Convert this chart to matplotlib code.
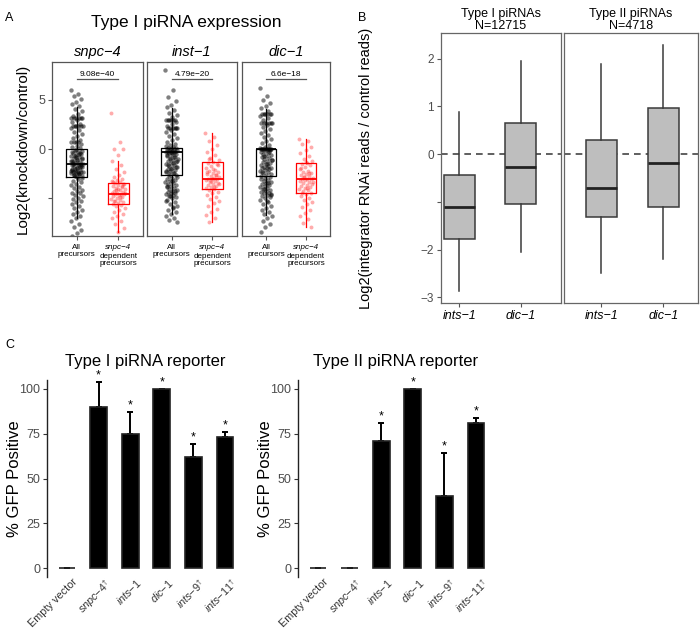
import numpy as np
import matplotlib
matplotlib.use("Agg")
import matplotlib.pyplot as plt
import matplotlib.transforms as mtransforms

plt.rcParams['font.family'] = ['Liberation Sans', 'DejaVu Sans']
plt.rcParams['mathtext.fontset'] = 'custom'
plt.rcParams['mathtext.it'] = 'Liberation Sans:italic'
plt.rcParams['mathtext.rm'] = 'Liberation Sans'
plt.rcParams['mathtext.sf'] = 'Liberation Sans'

# ---------------- Panel A data ----------------
a_facets = ['snpc−4', 'inst−1', 'dic−1']
a_pvals = ['9.08e−40', '4.79e−20', '6.6e−18']
a_all_snpc4 = [6.0, 5.6, 5.4, 5.1, 4.8, 4.6, 4.3, 4.0, 3.8, 3.5, 3.3, 3.1, 3.1, 3.1, 3.1, 3.1, 3.1, 2.9, 2.7, 2.5,
               2.3, 2.3, 2.3, 2.3, 2.3, 2.3, 2.1, 1.9, 1.7, 1.5, 1.3, 1.1, 0.9, 0.7, 0.7, 0.7, 0.7, 0.5, 0.3, 0.2, 0.1,
               -0.1, -0.2, -0.3, -0.4, -0.5, -0.6, -0.7, -0.8, -0.9, -1.0, -1.1, -1.2, -1.3, -1.4, -1.5, -1.5, -1.5,
               -1.5, -0.15, -0.35, -0.55, -0.75, -0.95, -1.15, -1.35, -0.45, -0.85, -1.25,
               -1.6, -1.7, -1.8, -1.9, -2.0, -2.1, -2.2, -2.3, -2.3, -2.3, -2.3, -2.3, -2.4, -2.5, -2.6, -2.7, -2.8,
               -1.65, -1.85, -2.05, -2.25, -2.45, -2.65, -1.75, -1.95, -2.15, -2.55, -2.75,
               -2.9, -3.0, -3.2, -3.3, -3.5, -3.6, -3.8, -3.9, -4.1, -4.2, -4.4, -4.5, -4.7, -4.8, -5.0, -5.1, -5.3,
               -5.4, -5.6, -5.8, -6.0, -6.2, -6.4, -6.6, -6.8, -7.0, -7.3, -7.6, -7.9, -8.2, -8.5, -8.8]
a_all_inst1 = [8.0, 6.0, 5.3, 4.9, 4.5, 4.2, 3.9, 3.6, 3.4, 3.2, 2.9, 2.9, 2.9, 2.9, 2.9, 2.9, 2.7, 2.5, 2.3, 2.1,
               2.1, 2.1, 2.1, 2.1, 2.1, 1.9, 1.7, 1.5, 1.3, 1.1, 0.9, 0.7, 0.5, 0.4, 0.3, 0.2, 0.1, 0.1, 0.0, 0.0,
               0.0, 0.0, -0.1, -0.2, -0.3, -0.3, -0.3, -0.3, -0.3, -0.4, -0.5, -0.6, -0.7, -0.8, -0.9, -1.0, -1.1,
               -1.2, -1.3, -1.4, -1.5, -1.6, -1.7, -1.8, -1.9, -2.0, -2.1, -2.2, -2.3, -2.4, -2.5, -2.6, -0.45,
               -0.65, -0.85, -1.05, -1.25, -1.45, -1.65, -1.85, -2.05, -2.25, -2.45,
               -2.7, -2.8, -2.9, -3.0, -3.1, -3.2, -3.3, -3.4, -3.5, -3.6, -3.7, -3.8, -3.9, -4.0, -4.1, -4.2, -4.3,
               -4.4, -4.5, -4.6, -4.7, -4.8, -4.9, -5.0, -5.2, -5.4, -5.6, -5.8, -6.0, -6.2, -6.4, -6.6, -6.8, -7.0,
               -7.2, -7.4, -3.25, -3.75, -4.25, -4.75, -5.3, -5.9]
a_all_dic1 = [6.2, 5.4, 5.0, 4.7, 4.4, 4.1, 3.8, 3.5, 3.5, 3.5, 3.5, 3.5, 3.5, 3.3, 3.1, 2.9, 2.6, 2.6, 2.6, 2.6,
              2.6, 2.6, 2.4, 2.2, 2.0, 1.8, 1.6, 1.4, 1.2, 1.0, 0.8, 0.6, 0.4, 0.2, 0.1,
              0.0, 0.0, 0.0, 0.0, 0.0, 0.0, 0.0, 0.0, 0.0, 0.0,
              -0.1, -0.2, -0.3, -0.4, -0.5, -0.6, -0.7, -0.8, -0.9, -1.0, -1.1, -1.2, -1.3, -1.4, -1.5, -1.6, -1.7,
              -1.8, -1.9, -1.9, -1.9, -2.0, -2.1, -2.2, -2.3, -2.4, -2.5, -2.6, -2.7, -0.35, -0.75, -1.15, -1.55,
              -2.35, -2.8, -2.9, -3.0, -3.1, -3.2, -3.3, -3.4, -3.5, -3.6, -3.7, -3.8, -3.9, -4.0, -4.1, -4.2, -4.3,
              -4.4, -4.5, -4.6, -4.7, -4.8, -4.9, -5.0, -5.2, -5.4, -5.6, -5.8, -6.0, -6.2, -6.4, -6.6, -6.8, -7.0,
              -7.3, -7.6, -7.9, -8.4, -3.45, -4.05, -4.65, -5.3]
a_dep_snpc4 = [3.6, 0.7, 0.0, 0.0, -0.6, -1.2, -1.6, -2.0, -2.3, -2.6, -2.8, -3.0, -3.1, -3.2, -3.3, -3.4, -3.5,
               -3.6, -3.7, -3.8, -3.9, -4.0, -4.1, -4.2, -4.3, -4.4, -4.5, -4.6, -4.6, -4.6, -4.7, -4.8, -4.9, -5.0,
               -5.1, -5.2, -5.3, -5.4, -5.5, -5.6, -5.7, -5.8, -6.0, -6.2, -6.4, -6.6, -6.8, -7.0, -7.3, -7.6, -8.0,
               -8.4, -3.35, -3.75, -4.15, -4.45, -4.85, -5.25, -3.55, -4.05]
a_dep_inst1 = [1.6, 1.2, 0.8, 0.4, 0.0, -0.3, -0.6, -0.9, -1.1, -1.3, -1.4, -1.5, -1.7, -1.9, -2.1, -2.2, -2.3,
               -2.4, -2.5, -2.6, -2.7, -2.8, -2.9, -3.0, -3.0, -3.0, -3.1, -3.2, -3.3, -3.4, -3.5, -3.6, -3.7, -3.8,
               -3.9, -4.0, -4.1, -4.3, -4.5, -4.7, -4.9, -5.1, -5.3, -5.5, -5.8, -6.1, -6.4, -6.7, -7.0, -7.4, -1.6,
               -2.0, -2.35, -2.65, -3.25, -3.55, -3.85, -1.0]
a_dep_dic1 = [1.0, 0.8, 0.5, 0.2, -0.1, -0.4, -0.7, -1.0, -1.2, -1.4, -1.5, -1.6, -1.8, -2.0, -2.2, -2.3, -2.4,
              -2.5, -2.6, -2.7, -2.8, -2.9, -3.0, -3.0, -3.0, -3.1, -3.2, -3.3, -3.4, -3.5, -3.6, -3.7, -3.8, -3.9,
              -4.0, -4.1, -4.2, -4.4, -4.6, -4.8, -5.0, -5.2, -5.4, -5.6, -5.9, -6.2, -6.5, -6.8, -7.1, -7.5, -7.9,
              -1.3, -1.9, -2.45, -2.85, -3.35, -3.95, -4.5]
# box stats: (whislo, q1, med, q3, whishi)
a_box_all = [(-7.0, -2.8, -1.5, 0.0, 4.2), (-6.6, -2.6, -0.3, 0.1, 4.1), (-6.7, -2.7, -0.05, 0.05, 4.0)]
a_box_dep = [(-8.4, -5.6, -4.6, -3.4, -1.2), (-7.4, -4.0, -3.0, -1.3, 1.6), (-7.9, -4.4, -3.0, -1.4, 1.0)]

# ---------------- Panel B data ----------------
b_facets = ['Type I piRNAs\nN=12715', 'Type II piRNAs\nN=4718']
b_groups = ['ints−1', 'dic−1']
# (whislo, q1, med, q3, whishi) per facet per group
b_box = [[(-2.87, -1.77, -1.11, -0.43, 0.88), (-2.05, -1.04, -0.26, 0.66, 1.95)],
         [(-2.50, -1.32, -0.70, 0.30, 1.88), (-2.20, -1.10, -0.18, 0.96, 2.28)]]

# ---------------- Panel C data ----------------
c_labels = ['Empty vector', r'$\mathit{snpc{-}4}^{\dagger}$', r'$\mathit{ints{-}1}$', r'$\mathit{dic{-}1}$',
            r'$\mathit{ints{-}9}^{\dagger}$', r'$\mathit{ints{-}11}^{\dagger}$']
c_titles = ['Type I piRNA reporter', 'Type II piRNA reporter']
c_vals = [[0, 90, 75, 100, 62, 73], [0, 0, 71, 100, 40, 81]]
c_err = [[0, 14, 12, 0, 7, 3], [0, 0, 10, 0, 24, 3]]
c_star = [[False, True, True, True, True, True], [False, False, True, True, True, True]]

W, H = 700, 630
fig = plt.figure(figsize=(W / 100, H / 100), dpi=100)


def ax_px(l, t, r, b):
    return fig.add_axes([l / W, 1 - b / H, (r - l) / W, (b - t) / H])


def jitter(n, width):
    k = np.arange(n)
    return ((k * 0.6180339887) % 1.0 - 0.5) * 2 * width


def stat(t):
    return dict(whislo=t[0], q1=t[1], med=t[2], q3=t[3], whishi=t[4])


spine_col = '#555555'
tick_col = '#4D4D4D'

# ================= Panel A =================
fig.text(5 / W, 1 - 18 / H, 'A', fontsize=9, va='center')
fig.text(186 / W, 1 - 22 / H, 'Type I piRNA expression', fontsize=12.5, ha='center', va='center')
fig.text(23 / W, 1 - 149 / H, 'Log2(knockdown/control)', fontsize=11, rotation=90, ha='center', va='center')
a_all = [a_all_snpc4, a_all_inst1, a_all_dic1]
a_dep = [a_dep_snpc4, a_dep_inst1, a_dep_dic1]
a_pos = [(52, 143), (147, 237), (242, 330)]
for i in range(3):
    ax = ax_px(a_pos[i][0], 62, a_pos[i][1], 236)
    blk = np.array(a_all[i])
    red = np.array(a_dep[i])
    ax.scatter(1 + jitter(len(blk), 0.15), blk, s=10, color='black', alpha=0.5, lw=0, zorder=2)
    ax.scatter(2 + jitter(len(red), 0.17), red, s=8, color='#FF3030', alpha=0.4, lw=0, zorder=2)
    ax.bxp([stat(a_box_all[i])], positions=[1], widths=0.5, showfliers=False, showcaps=False,
           patch_artist=False, manage_ticks=False,
           boxprops=dict(color='black', lw=0.9), whiskerprops=dict(color='black', lw=0.9),
           medianprops=dict(color='black', lw=1.3), zorder=3)
    ax.bxp([stat(a_box_dep[i])], positions=[2], widths=0.5, showfliers=False, showcaps=False,
           patch_artist=False, manage_ticks=False,
           boxprops=dict(color='#FF0000', lw=0.9), whiskerprops=dict(color='#FF0000', lw=0.9),
           medianprops=dict(color='#FF0000', lw=1.3), zorder=3)
    ax.plot([1, 2], [7.05, 7.05], color='#555555', lw=0.9)
    ax.text(1.5, 7.2, a_pvals[i], ha='center', va='bottom', fontsize=6)
    ax.set_xlim(0.4, 2.6)
    ax.set_ylim(-8.8, 8.8)
    ax.set_xticks([1, 2])
    ax.set_xticklabels(['', ''])
    ax.tick_params(axis='x', length=3, color=spine_col, width=0.8)
    ax.set_yticks([-5, 0, 5])
    if i == 0:
        ax.set_yticklabels(['', '0', '5'], fontsize=9, color=tick_col)
        ax.tick_params(axis='y', length=3, color=spine_col, width=0.8, pad=2)
    else:
        ax.set_yticklabels([])
        ax.tick_params(axis='y', length=0)
    for s in ax.spines.values():
        s.set_color(spine_col)
        s.set_linewidth(0.9)
    ax.set_title(a_facets[i], fontsize=10.5, style='italic', pad=4)
    ax.annotate('All\nprecursors', xy=(1, 0), xycoords=('data', 'axes fraction'), xytext=(0, -6),
                textcoords='offset points', ha='center', va='top', fontsize=5.8, linespacing=1.0)
    ax.annotate('snpc−4', xy=(2, 0), xycoords=('data', 'axes fraction'), xytext=(0, -6),
                textcoords='offset points', ha='center', va='top', fontsize=5.8, style='italic')
    ax.annotate('dependent\nprecursors', xy=(2, 0), xycoords=('data', 'axes fraction'), xytext=(0, -12.5),
                textcoords='offset points', ha='center', va='top', fontsize=5.8, linespacing=1.0)

# ================= Panel B =================
fig.text(358 / W, 1 - 18 / H, 'B', fontsize=9, va='center')
fig.text(366 / W, 1 - 168 / H, 'Log2(integrator RNAi reads / control reads)', fontsize=10.5, rotation=90,
         ha='center', va='center')
b_pos = [(441, 561), (564, 698)]
b_xlim = [(0.70, 2.66), (0.40, 2.56)]
for f in range(2):
    ax = ax_px(b_pos[f][0], 33, b_pos[f][1], 303)
    ax.axhline(0, color='#444444', lw=1.2, ls=(0, (4, 3)), zorder=1)
    ax.bxp([stat(t) for t in b_box[f]], positions=[1, 2], widths=0.5, showfliers=False, showcaps=False,
           patch_artist=True, manage_ticks=False,
           boxprops=dict(facecolor='#BEBEBE', edgecolor='#3A3A3A', lw=1.1),
           whiskerprops=dict(color='#3A3A3A', lw=1.1),
           medianprops=dict(color='#222222', lw=2.0), zorder=2)
    ax.set_xlim(*b_xlim[f])
    ax.set_ylim(-3.12, 2.54)
    ax.set_xticks([1, 2])
    ax.set_xticklabels(b_groups, fontsize=9, style='italic')
    ax.tick_params(axis='x', length=3, color=spine_col, width=0.8, pad=2)
    ax.set_yticks([-3, -2, -1, 0, 1, 2])
    if f == 0:
        ax.set_yticklabels(['−3', '−2', '', '0', '1', '2'], fontsize=8.5, color=tick_col)
        ax.tick_params(axis='y', length=3, color=spine_col, width=0.8, pad=2)
    else:
        ax.set_yticklabels([])
        ax.tick_params(axis='y', length=0)
    for s in ax.spines.values():
        s.set_color('#666666')
        s.set_linewidth(0.9)
    ax.set_title(b_facets[f], fontsize=9, pad=3, linespacing=0.95)

# ================= Panel C =================
fig.text(5 / W, 1 - 345 / H, 'C', fontsize=9, va='center')
c_left = [47, 298]
shift = mtransforms.ScaledTranslation(5 / 100, 2 / 100, fig.dpi_scale_trans)
for p in range(2):
    ax = ax_px(c_left[p], 380, c_left[p] + 196, 577)
    x = np.arange(len(c_labels))
    ax.bar(x, c_vals[p], width=0.53, color='black', edgecolor='#222222', lw=1.2, zorder=2)
    yerr = np.array([np.zeros(len(x)), c_err[p]])
    ax.errorbar(x, c_vals[p], yerr=yerr, fmt='none', ecolor='black', elinewidth=1.4, capsize=2, capthick=1.4,
                zorder=1)
    for j in range(len(x)):
        if c_star[p][j]:
            ax.text(x[j], c_vals[p][j] + c_err[p][j] + 0.3, '*', ha='center', va='bottom', fontsize=9)
    ax.set_xlim(-0.63, 5.57)
    ax.set_ylim(-5, 105)
    ax.set_yticks([0, 25, 50, 75, 100])
    ax.set_yticklabels(['0', '25', '50', '75', '100'], fontsize=9, color=tick_col)
    ax.tick_params(axis='y', length=3, color='#333333', width=0.8, pad=2)
    ax.set_xticks(x)
    ax.set_xticklabels(c_labels, fontsize=7.8, rotation=45, ha='right', va='top', rotation_mode='anchor',
                       color='#333333')
    ax.tick_params(axis='x', length=0, pad=1)
    for lab in ax.get_xticklabels():
        lab.set_transform(lab.get_transform() + shift)
    for s in ['top', 'right', 'bottom']:
        ax.spines[s].set_visible(False)
    ax.spines['left'].set_color('#222222')
    ax.spines['left'].set_linewidth(1.0)
    ax.set_ylabel('% GFP Positive', fontsize=12)
    ax.yaxis.set_label_coords(-0.13, 0.5)
    ax.set_title(c_titles[p], fontsize=12, pad=10)

fig.savefig('out.png', dpi=100)
